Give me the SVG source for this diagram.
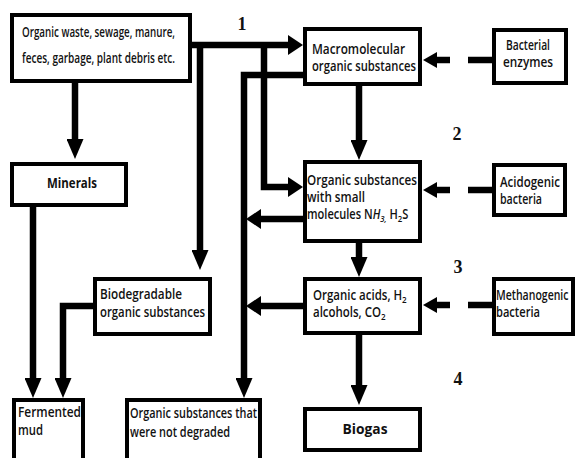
<svg xmlns="http://www.w3.org/2000/svg" width="577" height="458" viewBox="0 0 577 458">
<style>
.box{fill:#fff;stroke:#000;stroke-width:4}
.t{font-family:"Open Sans","Noto Sans",sans-serif;font-weight:600;font-size:13.5px;fill:#111}
.tb{font-family:"Open Sans","Noto Sans",sans-serif;font-weight:700;font-size:14px;fill:#111}
.n{font-family:"Liberation Serif",serif;font-weight:700;font-size:18px;fill:#111}
.c{fill:none;stroke:#000;stroke-width:6.5;stroke-linejoin:miter}
.sub{font-size:9.5px}
</style>
<defs>
<marker id="av" markerUnits="userSpaceOnUse" markerWidth="20" markerHeight="17" refX="1" refY="8.5" orient="auto" viewBox="0 0 20 17"><path d="M0,0 L20,8.5 L0,17 z" fill="#000"/></marker>
<marker id="ah" markerUnits="userSpaceOnUse" markerWidth="15" markerHeight="20" refX="1" refY="10" orient="auto" viewBox="0 0 15 20"><path d="M0,0 L15,10 L0,20 z" fill="#000"/></marker>
<marker id="as" markerUnits="userSpaceOnUse" markerWidth="14" markerHeight="16" refX="1" refY="8" orient="auto" viewBox="0 0 14 16"><path d="M0,0 L14,8 L0,16 z" fill="#000"/></marker>
</defs>
<rect x="0" y="0" width="577" height="458" fill="#fff"/>
<g id="connectors">
<path class="c" d="M192,45 H289" marker-end="url(#ah)"/>
<path class="c" d="M200,42 V251" marker-end="url(#av)"/>
<path class="c" d="M264,42 V187 H289" marker-end="url(#ah)"/>
<path class="c" d="M75,83 V140" marker-end="url(#av)"/>
<path class="c" d="M33,207 V379" marker-end="url(#av)"/>
<path class="c" d="M93,306 H63 V379" marker-end="url(#av)"/>
<path class="c" d="M303,75 H244 V379" marker-end="url(#av)"/>
<path class="c" d="M303,219 H260" marker-end="url(#ah)"/>
<path class="c" d="M303,306 H260" marker-end="url(#ah)"/>
<path class="c" d="M359,86 V141" marker-end="url(#av)"/>
<path class="c" d="M359,243 V258" marker-end="url(#av)"/>
<path class="c" d="M359,335 V386" marker-end="url(#av)"/>
<path class="c" d="M492,60 H468"/>
<path class="c" d="M450,60 H436" marker-end="url(#as)"/>
<path class="c" d="M492,190 H468"/>
<path class="c" d="M450,190 H436" marker-end="url(#as)"/>
<path class="c" d="M492,305 H468"/>
<path class="c" d="M450,305 H436" marker-end="url(#as)"/>
</g>
<g id="n-waste">
<rect class="box" x="12" y="15" width="178" height="66"/>
<text class="t" x="22" y="37" textLength="153" lengthAdjust="spacingAndGlyphs">Organic waste, sewage, manure,</text>
<text class="t" x="22" y="63" textLength="153" lengthAdjust="spacingAndGlyphs">feces, garbage, plant debris etc.</text>
</g>
<g id="n-macro">
<rect class="box" x="305" y="29" width="115" height="55"/>
<text class="t" x="312" y="54" textLength="93" lengthAdjust="spacingAndGlyphs">Macromolecular</text>
<text class="t" x="312" y="71" textLength="104" lengthAdjust="spacingAndGlyphs">organic substances</text>
</g>
<g id="n-enzymes">
<rect class="box" x="494" y="30" width="72" height="53"/>
<text class="t" x="528" y="50" text-anchor="middle" textLength="44" lengthAdjust="spacingAndGlyphs">Bacterial</text>
<text class="t" x="528" y="67" text-anchor="middle" textLength="50" lengthAdjust="spacingAndGlyphs">enzymes</text>
</g>
<g id="n-minerals">
<rect class="box" x="12" y="164" width="114" height="41"/>
<text class="tb" x="72" y="188" text-anchor="middle" textLength="50" lengthAdjust="spacingAndGlyphs">Minerals</text>
</g>
<g id="n-small">
<rect class="box" x="305" y="162" width="115" height="79"/>
<text class="t" x="307" y="185" textLength="110" lengthAdjust="spacingAndGlyphs">Organic substances</text>
<text class="t" x="307" y="202" textLength="58" lengthAdjust="spacingAndGlyphs">with small</text>
<text class="t" transform="translate(307,219) scale(0.82,1)" x="0" y="0">molecules N<tspan font-style="italic">H</tspan><tspan class="sub" dy="3" font-style="italic">3,</tspan><tspan dy="-3"> H</tspan><tspan class="sub" dy="3">2</tspan><tspan dy="-3">S</tspan></text>
</g>
<g id="n-acidogenic">
<rect class="box" x="494" y="165" width="71" height="50"/>
<text class="t" x="500" y="187" textLength="60" lengthAdjust="spacingAndGlyphs">Acidogenic</text>
<text class="t" x="500" y="204" textLength="42" lengthAdjust="spacingAndGlyphs">bacteria</text>
</g>
<g id="n-biodeg">
<rect class="box" x="95" y="279" width="115" height="55"/>
<text class="t" x="100" y="299" textLength="82" lengthAdjust="spacingAndGlyphs">Biodegradable</text>
<text class="t" x="100" y="317" textLength="105" lengthAdjust="spacingAndGlyphs">organic substances</text>
</g>
<g id="n-acids">
<rect class="box" x="305" y="279" width="115" height="54"/>
<text class="t" transform="translate(313,300) scale(0.85,1)" x="0" y="0">Organic acids, H<tspan class="sub" dy="3">2</tspan></text>
<text class="t" transform="translate(313,317) scale(0.85,1)" x="0" y="0">alcohols, CO<tspan class="sub" dy="3">2</tspan></text>
</g>
<g id="n-methanogenic">
<rect class="box" x="494" y="279" width="79" height="55"/>
<text class="t" transform="translate(496,300) scale(0.78,1)" x="0" y="0">Methanogenic</text>
<text class="t" x="496" y="317" textLength="44" lengthAdjust="spacingAndGlyphs">bacteria</text>
</g>
<g id="n-fermented">
<rect class="box" x="14" y="400" width="69" height="80"/>
<text class="t" x="18" y="417" textLength="63" lengthAdjust="spacingAndGlyphs">Fermented</text>
<text class="t" x="18" y="435" textLength="25" lengthAdjust="spacingAndGlyphs">mud</text>
</g>
<g id="n-notdegraded">
<rect class="box" x="127" y="400" width="133" height="80"/>
<text class="t" x="130" y="418" textLength="127" lengthAdjust="spacingAndGlyphs">Organic substances  that</text>
<text class="t" x="130" y="437" textLength="100" lengthAdjust="spacingAndGlyphs">were not degraded</text>
</g>
<g id="n-biogas">
<rect class="box" x="305" y="409" width="115" height="41"/>
<text class="tb" x="365" y="434" text-anchor="middle" textLength="45" lengthAdjust="spacingAndGlyphs">Biogas</text>
</g>
<g id="labels">
<text class="n" x="242" y="30" text-anchor="middle">1</text>
<text class="n" x="457" y="140" text-anchor="middle">2</text>
<text class="n" x="458" y="273" text-anchor="middle">3</text>
<text class="n" x="458" y="385" text-anchor="middle">4</text>
</g>
</svg>
